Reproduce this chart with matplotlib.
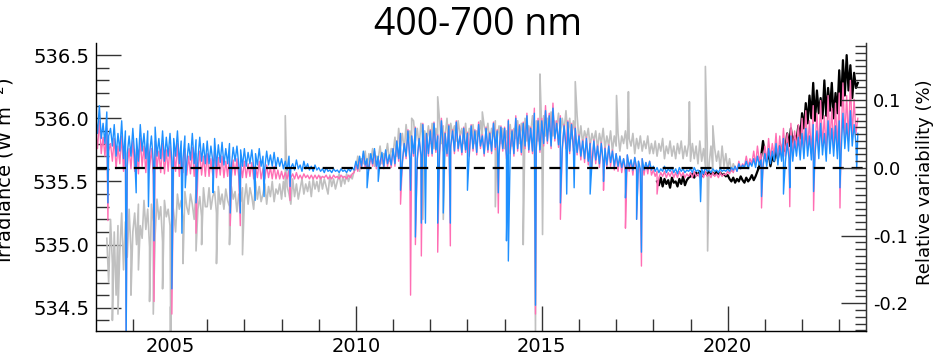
# 400-700 nm irradiance time series
import numpy as np
import matplotlib.pyplot as plt
from matplotlib.ticker import MultipleLocator, FixedLocator

# dati, griglia ogni 0.05 anni
# blu, rosa, nero: centesimi di W m^-2 sopra 535 ; grigio: sopra 534
step = 0.05

blue_start = 2003.0
blue_cw = [
    102, 88, 110, 84, 96, 80, 105, 86, 92, 78, 95, 70, 88, 74, 98, 68, 90, 72, 86, 70,
    92, 70, 84, 66, 95, 74, 88, 68, 90, 72, 86, 66, 93, 70, 84, 68, 90, 66, 85, 70,
    88, 66, 84, 70, 90, 64, 82, 68, 86, 65, 80, 67, 88, 64, 83, 68, 85, 66, 80, 64,
    82, 64, 78, 66, 84, 62, 79, 65, 81, 63, 76, 64, 80, 62, 77, 66, 78, 63, 75, 62,
    76, 62, 73, 64, 75, 61, 72, 63, 76, 62, 70, 61, 74, 63, 71, 62, 73, 61, 69, 62,
    68, 60, 66, 59, 70, 61, 64, 59, 67, 60, 63, 58, 66, 60, 64, 59, 62, 58, 63, 59,
    61, 58, 60, 57, 61, 58, 59, 57, 60, 58, 59, 57, 60, 58, 59, 57, 60, 58, 61, 59,
    66, 60, 70, 62, 74, 63, 68, 61, 72, 64, 76, 62, 70, 65, 73, 62, 75, 64, 71, 63,
    76, 64, 82, 68, 88, 66, 80, 70, 90, 68, 86, 72, 92, 68, 84, 71, 95, 69, 88, 72,
    90, 72, 96, 75, 86, 73, 98, 76, 88, 72, 94, 78, 90, 74, 97, 76, 86, 73, 92, 75,
    88, 72, 94, 76, 90, 73, 95, 78, 86, 72, 92, 75, 88, 74, 96, 77, 90, 72, 93, 76,
    92, 70, 98, 74, 90, 72, 100, 76, 94, 73, 96, 78, 102, 75, 92, 74, 104, 76, 98, 75,
    98, 80, 106, 82, 102, 78, 108, 84, 96, 79, 100, 76, 94, 78, 97, 74, 95, 76, 92, 73,
    86, 70, 82, 68, 84, 66, 80, 65, 82, 67, 78, 64, 80, 66, 76, 63, 78, 65, 74, 62,
    72, 62, 70, 61, 68, 60, 71, 62, 67, 59, 69, 61, 66, 60, 68, 59, 65, 60, 66, 59,
    62, 58, 61, 57, 60, 58, 62, 57, 60, 58, 61, 57, 60, 56, 61, 58, 60, 57, 59, 58,
    60, 57, 61, 58, 59, 57, 60, 56, 61, 58, 59, 57, 60, 58, 59, 57, 60, 58, 59, 58,
    60, 58, 61, 59, 62, 58, 64, 60, 63, 61, 66, 60, 65, 62, 68, 61, 70, 63, 67, 62,
    72, 62, 76, 64, 74, 66, 80, 63, 78, 66, 84, 65, 80, 68, 86, 66, 82, 70, 85, 67,
    88, 68, 92, 70, 86, 67, 95, 72, 90, 68, 96, 71, 88, 66, 98, 72, 92, 70, 94, 68,
    98, 72, 104, 76, 96, 74, 106, 78, 95, 80, 88,
]
blue_dip_years = [2003.33, 2003.82, 2004.09, 2004.42, 2004.57, 2005.05, 2005.32, 2005.41,
                  2005.70, 2006.16, 2006.62, 2006.89, 2007.29, 2007.53, 2008.23, 2010.30,
                  2010.60, 2011.20, 2011.47, 2011.60, 2011.76, 2011.87, 2012.20, 2012.35,
                  2012.54, 2013.00, 2013.83, 2014.05, 2014.10, 2014.83, 2015.50, 2015.67,
                  2015.87, 2016.30, 2016.66, 2017.25, 2017.55, 2017.68, 2019.27, 2020.91,
                  2021.50, 2021.67, 2022.31, 2023.02, 2023.47]
blue_dip_vals = [535.33, 534.20, 535.41, 535.30, 535.03, 534.65, 535.09, 535.45,
                 535.33, 535.41, 535.25, 535.25, 535.35, 535.38, 535.46, 535.45,
                 535.50, 535.43, 535.43, 535.06, 535.17, 535.17, 535.17, 535.25,
                 535.17, 535.43, 535.41, 535.03, 534.87, 534.52, 535.33, 535.40,
                 535.45, 535.40, 535.50, 535.37, 535.20, 534.94, 535.34, 535.38,
                 535.40, 535.45, 535.42, 535.45, 535.60]

pink_start = 2003.0
pink_cw = [
    90, 76, 98, 72, 85, 70, 92, 74, 80, 66, 84, 60, 78, 64, 86, 58, 80, 62, 76, 60,
    82, 58, 76, 56, 84, 62, 78, 57, 80, 60, 76, 55, 82, 60, 74, 57, 80, 56, 75, 58,
    78, 56, 74, 58, 80, 54, 72, 57, 76, 55, 70, 56, 77, 54, 72, 57, 74, 55, 70, 54,
    72, 54, 68, 55, 74, 53, 69, 55, 70, 53, 66, 54, 70, 53, 67, 55, 68, 53, 65, 53,
    66, 53, 64, 54, 65, 52, 62, 53, 66, 52, 60, 52, 63, 53, 61, 52, 62, 52, 59, 52,
    58, 52, 57, 52, 59, 53, 56, 52, 57, 52, 55, 52, 56, 53, 55, 52, 55, 52, 55, 52,
    55, 52, 54, 53, 55, 52, 54, 52, 55, 53, 54, 52, 55, 53, 54, 52, 55, 53, 56, 57,
    64, 58, 68, 60, 72, 61, 66, 59, 70, 62, 74, 60, 68, 63, 71, 60, 74, 62, 70, 61,
    76, 62, 82, 66, 88, 64, 80, 68, 91, 66, 86, 70, 93, 66, 84, 69, 96, 67, 88, 70,
    91, 70, 97, 73, 87, 71, 100, 74, 89, 70, 95, 76, 91, 72, 98, 74, 87, 71, 93, 73,
    89, 70, 95, 74, 91, 71, 97, 76, 87, 70, 93, 73, 89, 72, 97, 75, 91, 70, 94, 74,
    93, 68, 99, 72, 91, 70, 102, 74, 95, 71, 97, 76, 104, 73, 93, 72, 108, 74, 100, 73,
    100, 78, 110, 80, 104, 76, 112, 82, 98, 77, 102, 74, 95, 76, 98, 72, 96, 74, 93, 71,
    87, 67, 83, 65, 85, 63, 81, 62, 83, 64, 79, 61, 81, 63, 77, 60, 79, 62, 75, 59,
    72, 58, 70, 57, 68, 56, 71, 58, 67, 55, 69, 57, 66, 56, 68, 55, 65, 56, 66, 55,
    59, 54, 58, 53, 57, 54, 58, 53, 57, 54, 58, 53, 57, 53, 58, 54, 57, 53, 56, 54,
    57, 53, 58, 54, 56, 53, 57, 53, 58, 54, 56, 53, 57, 54, 56, 53, 57, 54, 56, 55,
    58, 56, 60, 57, 62, 58, 66, 60, 64, 62, 70, 62, 68, 64, 74, 63, 78, 66, 72, 64,
    78, 66, 84, 68, 80, 70, 88, 67, 86, 70, 92, 70, 88, 73, 96, 72, 90, 76, 95, 72,
    100, 74, 106, 76, 98, 72, 110, 78, 104, 74, 114, 78, 102, 72, 118, 80, 108, 76, 112, 74,
    120, 80, 128, 84, 118, 82, 130, 86, 115, 88, 100,
]
pink_dip_years = [2003.33, 2003.82, 2004.57, 2005.05, 2005.70, 2006.62, 2006.89, 2008.23,
                  2011.20, 2011.47, 2011.60, 2011.76, 2012.20, 2012.54, 2013.83, 2014.83,
                  2015.50, 2016.66, 2017.25, 2017.55, 2017.68, 2018.10, 2020.91, 2021.67,
                  2022.31, 2023.02]
pink_dip_vals = [535.19, 534.25, 534.55, 534.45, 535.09, 535.15, 535.15, 535.35,
                 535.32, 534.60, 535.00, 534.91, 534.94, 534.99, 535.25, 534.45,
                 535.20, 535.43, 535.13, 535.20, 534.83, 535.40, 535.29, 535.30,
                 535.27, 535.29]

gray_start = 2003.3
gray_cw = [
    105, 70, 120, 85, 110, 60, 115, 95, 125, 80, 118, 90, 128, 95,
    110, 125, 100, 132, 115, 105, 135, 112, 128, 98, 132, 118, 108, 136, 120, 130, 102, 135, 122, 128,
    115, 138, 125, 110, 140, 128, 135, 118, 142, 130, 124, 140, 132, 120, 143, 128, 138, 122, 145, 130,
    130, 145, 128, 138, 142, 125, 146, 132, 140, 128, 144, 135, 130, 146, 136, 142, 126, 140, 134, 145,
    135, 148, 132, 145, 138, 128, 150, 136, 146, 134, 140, 148, 132, 146, 138, 150, 134, 144, 140, 148,
    136, 150, 138, 146, 140, 132, 152, 138, 148, 136, 144, 152, 140, 148, 142, 150, 138, 152, 144, 150,
    142, 154, 144, 152, 146, 140, 155, 146, 152, 144, 150, 156, 146, 154, 148, 156, 150, 155, 152, 158,
    160, 170, 158, 168, 164, 174, 160, 172, 166, 176, 162, 170, 168, 178, 164, 172, 170, 180, 166, 176,
    172, 185, 170, 192, 178, 188, 174, 195, 180, 190, 176, 198, 182, 192, 178, 196, 184, 190, 180, 194,
    180, 196, 176, 192, 184, 198, 180, 194, 186, 200, 178, 196, 188, 194, 182, 198, 186, 192, 180, 196,
    178, 192, 184, 195, 180, 190, 186, 198, 182, 194, 188, 196, 180, 192, 186, 198, 184, 194, 180, 192,
    176, 190, 180, 195, 178, 192, 184, 198, 180, 196, 186, 200, 182, 194, 188, 202, 184, 198, 182, 196,
    188, 202, 186, 200, 190, 205, 186, 198, 192, 204, 188, 200, 190, 206, 186, 200, 184, 198, 188, 202,
    182, 194, 180, 190, 184, 192, 178, 188, 182, 190, 176, 188, 180, 192, 176, 186, 178, 190, 174, 186,
    178, 188, 174, 186, 180, 190, 176, 184, 178, 188, 172, 184, 176, 186, 174, 182, 176, 186, 172, 180,
    172, 182, 170, 180, 174, 184, 168, 178, 172, 182, 170, 178, 168, 180, 172, 182, 168, 178, 170, 180,
    166, 180, 168, 178, 164, 182, 166, 176, 162, 180, 164, 178, 160, 176, 166, 174, 160, 178, 162, 172,
    160, 168, 158, 164, 160,
]
gray_spike_years = [2003.45, 2003.60, 2003.95, 2004.15, 2004.45, 2004.55, 2004.80, 2005.02,
                    2005.35, 2005.70, 2005.85, 2006.25, 2006.60, 2006.95, 2008.10, 2011.50,
                    2011.80, 2012.20, 2012.35, 2013.40, 2013.75, 2014.50, 2014.83, 2014.95,
                    2015.02, 2015.90, 2017.01, 2017.33, 2018.97, 2019.40, 2019.46, 2019.60]
gray_spike_vals = [534.40, 534.45, 534.60, 534.80, 534.55, 534.45, 534.65, 534.30,
                   534.85, 534.95, 535.00, 534.85, 535.00, 534.92, 536.02, 536.00,
                   535.20, 536.17, 535.20, 536.05, 535.30, 535.00, 534.30, 536.35,
                   535.08, 536.29, 536.18, 536.21, 536.13, 536.41, 534.95, 535.94]

black_start = 2018.1
black_cw = [
    50, 47, 53, 46, 52, 48, 51, 45, 53, 49, 50, 46, 52, 48, 54, 47, 51, 53,
    54, 56, 53, 57, 55, 58, 54, 56, 57, 55, 58, 56, 57, 55, 58, 56, 57, 55, 56, 54,
    55, 52, 50, 53, 49, 52, 50, 54, 51, 49, 53, 50, 52, 55, 51, 54, 58, 62, 70, 82,
    72, 66, 74, 62, 70, 66, 76, 68, 78, 72, 82, 74, 88, 78, 92, 80, 86, 82, 94, 84,
    104, 92, 112, 96, 118, 100, 128, 98, 122, 104, 116, 100, 130, 102, 124, 106, 128, 100, 120, 104,
    138, 110, 146, 118, 150, 122, 142, 116, 136, 124, 128,
]

ref_level = 535.607  # linea tratteggiata (0 %)


def merge(start, base_w, ev_years, ev_vals):
    yrs = np.round(start + step * np.arange(len(base_w)), 3)
    yrs = np.concatenate([yrs, ev_years])
    vals = np.concatenate([base_w, ev_vals])
    idx = np.argsort(yrs, kind='stable')
    return yrs[idx], vals[idx]


xg, yg = merge(gray_start, 534 + np.array(gray_cw) / 100, gray_spike_years, gray_spike_vals)
xk, yk = merge(black_start, 535 + np.array(black_cw) / 100, [], [])
xp, yp = merge(pink_start, 535 + np.array(pink_cw) / 100, pink_dip_years, pink_dip_vals)
xb, yb = merge(blue_start, 535 + np.array(blue_cw) / 100, blue_dip_years, blue_dip_vals)

fig = plt.figure(figsize=(9.35, 3.57), dpi=100)
ax = fig.add_axes([0.1027, 0.0728, 0.8235, 0.8068])

ax.plot(xg, yg, color='#c0c0c0', lw=1.2)
ax.plot(xk, yk, color='black', lw=1.6)
ax.plot(xp, yp, color='#ff6eb4', lw=1.0)
ax.plot(xb, yb, color='#1e90ff', lw=1.0)
ax.axhline(ref_level, color='black', lw=1.6, ls=(0, (5, 3.5)))

xmin, xmax = 2003.01, 2023.72
ymin, ymax = 534.316, 536.596
ax.set_xlim(xmin, xmax)
ax.set_ylim(ymin, ymax)

axis_col = '#333333'
for s in ['left', 'right', 'bottom']:
    ax.spines[s].set_color(axis_col)
    ax.spines[s].set_linewidth(1.0)
ax.spines['top'].set_visible(False)

ax.xaxis.set_major_locator(FixedLocator([2005, 2010, 2015, 2020]))
ax.xaxis.set_minor_locator(MultipleLocator(1))
ax.yaxis.set_major_locator(FixedLocator([534.5, 535.0, 535.5, 536.0, 536.5]))
ax.yaxis.set_minor_locator(MultipleLocator(0.1))
ax.set_yticklabels(['534.5', '535.0', '535.5', '536.0', '536.5'])
ax.tick_params(which='both', direction='in', color=axis_col, labelsize=14, width=1.0)
ax.tick_params(which='major', length=18, pad=5)
ax.tick_params(which='minor', length=9)
ax.tick_params(axis='x', top=False, pad=4)

ax2 = ax.twinx()
ax2.set_ylim((ymin - ref_level) / ref_level * 100, (ymax - ref_level) / ref_level * 100)
ax2.yaxis.set_major_locator(FixedLocator([-0.2, -0.1, 0.0, 0.1]))
ax2.yaxis.set_minor_locator(MultipleLocator(0.01))
ax2.set_yticklabels(['-0.2', '-0.1', '0.0', '0.1'])
ax2.spines['top'].set_visible(False)
ax2.spines['right'].set_color(axis_col)
ax2.tick_params(which='both', direction='in', color=axis_col, labelsize=13, width=1.0)
ax2.tick_params(which='major', length=18, pad=5)
ax2.tick_params(which='minor', length=8)

fig.text(0.511, 0.93, '400-700 nm', ha='center', va='center',
         fontsize=27, family='Open Sans')
fig.text(0.004, 0.524, 'Irradiance (W m$^{-2}$)', rotation=90,
         ha='center', va='center', fontsize=14)
fig.text(0.989, 0.49, 'Relative variability (%)', rotation=90,
         ha='center', va='center', fontsize=13)

fig.savefig('out.png', dpi=100)
